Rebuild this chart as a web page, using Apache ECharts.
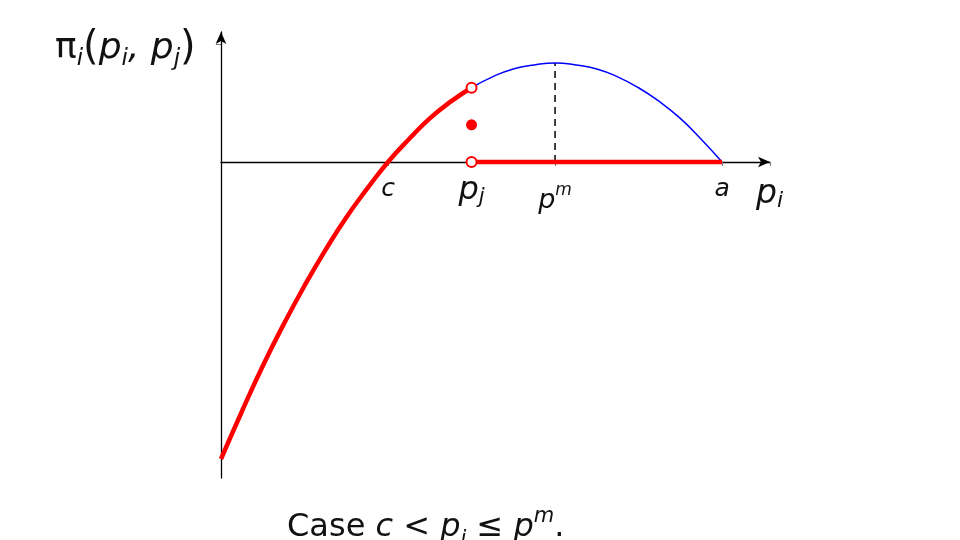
<!DOCTYPE html>
<html><head><meta charset="utf-8">
<script src="https://cdn.jsdelivr.net/npm/echarts@6/dist/echarts.min.js"></script>
<style>html,body{margin:0;padding:0;background:#fff}#c{width:960px;height:540px}</style>
</head><body><div id="c"></div>
<script>
// profit curve (p_i, pi_i)
const redCurve = [[0,-3],[0.125,-2.52],[0.25,-2.06],[0.375,-1.64],[0.5,-1.25],[0.625,-0.89],[0.75,-0.56],[0.875,-0.27],[1,0],[1.125,0.23],[1.25,0.44],[1.375,0.61],[1.5,0.75]];
const blueCurve = [[1.5,0.75],[1.625,0.86],[1.75,0.94],[1.875,0.98],[2,1],[2.125,0.98],[2.25,0.94],[2.375,0.86],[2.5,0.75],[2.625,0.61],[2.75,0.44],[2.875,0.23],[3,0]];
const redFlat = [[1.5,0],[3,0]];
const openPoints = [[1.5,0.75],[1.5,0]];
const sharedPoint = [[1.5,0.375]];
const pmLine = [[2,0],[2,1]];
const xTickValues = [1,2,3,3.287];
const xLabelValues = [1,1.5,2,3];
const xLabelTexts = ['{m|c}','{b|p}{bs|j}','{pm|p}{sup|m}','{m|a}'];
const yTickValues = [1.19];

const F = 'DejaVu Sans';
const TC = '#111';
const N = 'normal';
const chart = echarts.init(document.getElementById('c'));
chart.setOption({
  animation:false,
  backgroundColor:'#fff',
  title:[{
    text:'{pi|π}{s|i}{par|(}{p|p}{s|i}{p|, }{p|p}{s|j}{par|)}',
    left:50, top:22,
    textStyle:{fontWeight:N, rich:{
      pi:{fontFamily:F,fontWeight:N,fontSize:36,color:TC,lineHeight:44},
      p:{fontFamily:F,fontWeight:N,fontStyle:'italic',fontSize:36,color:TC,lineHeight:44},
      par:{fontFamily:F,fontWeight:N,fontSize:40,color:TC,lineHeight:44},
      s:{fontFamily:F,fontWeight:N,fontStyle:'italic',fontSize:23,color:TC,lineHeight:25,verticalAlign:'bottom'}
    }}
  },{
    text:'{t|Case }{m|c}{t| < }{m|p}{s|i}{t| ≤ }{m|p}{sup|m}{t|.}',
    left:282, top:501,
    textStyle:{fontWeight:N, rich:{
      t:{fontFamily:F,fontWeight:N,fontSize:32,color:TC,lineHeight:44},
      m:{fontFamily:F,fontWeight:N,fontStyle:'italic',fontSize:32,color:TC,lineHeight:44},
      s:{fontFamily:F,fontWeight:N,fontStyle:'italic',fontSize:21,color:TC,lineHeight:22,verticalAlign:'bottom'},
      sup:{fontFamily:F,fontWeight:N,fontStyle:'italic',fontSize:21,color:TC,lineHeight:22,verticalAlign:'top'}
    }}
  }],
  grid:{left:221, right:960-770, top:32, bottom:540-478, containLabel:false},
  xAxis:{
    type:'value', min:0, max:3.287,
    position:'bottom', offset:-316,
    splitLine:{show:false},
    axisLine:{onZero:false, lineStyle:{color:'#000',width:1.3}, symbol:['none','arrow'], symbolSize:[8,12]},
    axisTick:{show:true, customValues:xTickValues, length:4, lineStyle:{color:'#777',width:1}},
    axisLabel:{show:true, customValues:xLabelValues, margin:12,
      formatter:function(v){ const i = xLabelValues.indexOf(v); return i>=0 ? xLabelTexts[i] : ''; },
      rich:{
        m:{fontFamily:F,fontStyle:'italic',fontSize:25,color:TC,lineHeight:30},
        pm:{fontFamily:F,fontStyle:'italic',fontSize:27,color:TC,lineHeight:40,verticalAlign:'bottom'},
        b:{fontFamily:F,fontStyle:'italic',fontSize:32,color:TC,lineHeight:34},
        bs:{fontFamily:F,fontStyle:'italic',fontSize:21,color:TC,lineHeight:22,verticalAlign:'bottom'},
        sup:{fontFamily:F,fontStyle:'italic',fontSize:17,color:TC,lineHeight:18,padding:[8,0,0,0],verticalAlign:'top'}
      }},
    name:'{b|p}{bs|i}', nameLocation:'end', nameGap:-14,
    nameTextStyle:{align:'left', verticalAlign:'top', padding:[14,0,0,0],
      rich:{
        b:{fontFamily:F,fontStyle:'italic',fontSize:33,color:TC,lineHeight:36},
        bs:{fontFamily:F,fontStyle:'italic',fontSize:22,color:TC,lineHeight:24,verticalAlign:'bottom'}
      }}
  },
  yAxis:{
    type:'value', min:-3.192, max:1.313,
    splitLine:{show:false},
    axisLine:{onZero:false, lineStyle:{color:'#000',width:1.3}, symbol:['none','arrow'], symbolSize:[8,12]},
    axisTick:{show:true, customValues:yTickValues, length:5, inside:false, lineStyle:{color:'#777',width:1}},
    axisLabel:{show:false}
  },
  series:[
    {type:'line', data:pmLine, symbol:'none', lineStyle:{color:'#000',width:1.5,type:[7,5]}, z:2},
    {type:'line', data:blueCurve, smooth:0.5, symbol:'none', lineStyle:{color:'#0000ff',width:1.5}, z:3},
    {type:'line', data:redCurve, smooth:0.5, symbol:'none', lineStyle:{color:'#ff0000',width:4.5}, z:4},
    {type:'line', data:redFlat, symbol:'none', lineStyle:{color:'#ff0000',width:4.5}, z:4},
    {type:'scatter', data:openPoints, symbol:'circle', symbolSize:10, itemStyle:{color:'#fff',borderColor:'#ff0000',borderWidth:2,opacity:1}, z:6},
    {type:'scatter', data:sharedPoint, symbol:'circle', symbolSize:11, itemStyle:{color:'#ff0000',opacity:1}, z:6}
  ]
});
</script></body></html>
